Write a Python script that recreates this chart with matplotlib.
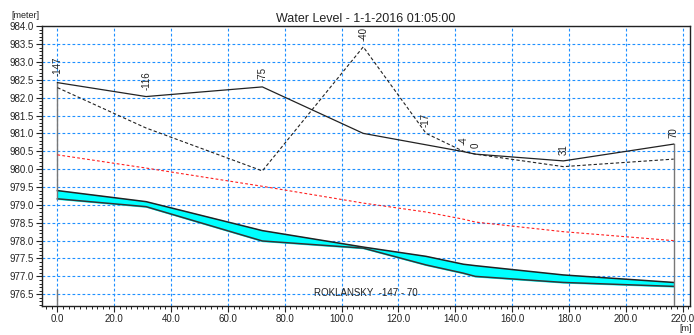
import matplotlib
matplotlib.use("Agg")
import matplotlib.pyplot as plt
from matplotlib.ticker import MultipleLocator, FormatStrFormatter

plt.rcParams['font.family'] = ['Liberation Sans', 'DejaVu Sans']

# Data (chainage in m, levels in meter)
stations = [0.0, 31.2, 72.1, 107.6, 129.7, 142.8, 147.0, 178.0, 216.8]
station_labels = ["-147", "-116", "-75", "-40", "-17", "-4", "0", "31", "70"]
left_bank = [982.42, 982.03, 982.30, 981.00, 980.68, 980.49, 980.42, 980.23, 980.70]
right_bank = [982.28, 981.15, 979.95, 983.42, 981.00, 980.50, 980.42, 980.07, 980.28]
critical_level = [980.40, 980.03, 979.52, 979.05, 978.80, 978.60, 978.52, 978.25, 978.00]
water_level = [979.40, 979.09, 978.28, 977.82, 977.56, 977.34, 977.30, 977.04, 976.83]
bed_level = [979.17, 978.95, 977.99, 977.79, 977.32, 977.09, 977.00, 976.83, 976.72]

fig = plt.figure(figsize=(6.94, 3.35), dpi=100)
ax = fig.add_axes([0.061, 0.0875, 0.933, 0.8345])

ax.set_xlim(-5.3, 222.5)
ax.set_ylim(976.18, 984.0)

# grid
ax.grid(True, which='major', color='#1E90FF', linestyle=(0, (2.5, 2)), linewidth=0.8)
ax.set_axisbelow(True)

# water band
ax.fill_between(stations, bed_level, water_level, color='#00FFFF', zorder=3)
ax.plot(stations, water_level, color='#222222', lw=1.1, zorder=4)
ax.plot(stations, bed_level, color='#333333', lw=1.1, zorder=4)

# lines
ax.plot(stations, left_bank, color='#222222', lw=0.9, zorder=5)
ax.plot(stations, right_bank, color='#222222', lw=0.8, linestyle=(0, (3, 2)), zorder=5)
ax.plot(stations, critical_level, color='#FF2020', lw=0.8, linestyle=(0, (2.5, 2)), zorder=5)

# vertical end markers
ax.plot([stations[0], stations[0]], [left_bank[0], bed_level[0]], color='#777777', lw=1.0, zorder=4)
ax.plot([stations[0], stations[0]], [976.18, 976.62], color='#777777', lw=1.0, zorder=4)
ax.plot([stations[-1], stations[-1]], [left_bank[-1], 976.18], color='#777777', lw=1.0, zorder=4)

# station labels
for x, lb, rb, lab in zip(stations, left_bank, right_bank, station_labels):
    ax.annotate(lab, (x, max(lb, rb)), xytext=(0, 4.5), textcoords='offset points',
                rotation=90, ha='center', va='bottom', fontsize=7, color='#222222', zorder=6)

# ticks
ax.xaxis.set_major_locator(MultipleLocator(20))
ax.xaxis.set_minor_locator(MultipleLocator(2))
ax.yaxis.set_major_locator(MultipleLocator(0.5))
ax.yaxis.set_minor_locator(MultipleLocator(0.1))
ax.xaxis.set_major_formatter(FormatStrFormatter('%.1f'))
ax.yaxis.set_major_formatter(FormatStrFormatter('%.1f'))
ax.tick_params(which='major', direction='out', length=4, width=0.8, labelsize=7, colors='#222222', pad=2)
ax.tick_params(which='minor', direction='out', length=2.5, width=0.7, colors='#222222')

for s in ax.spines.values():
    s.set_color('#222222')
    s.set_linewidth(1.0)

ax.set_title("Water Level - 1-1-2016 01:05:00", fontsize=9, color='#222222', pad=3)
fig.text(0.017, 0.955, "[meter]", fontsize=6.5, color='#222222', va='center', ha='left')
fig.text(0.988, 0.02, "[m]", fontsize=6.5, color='#222222', va='center', ha='center')
ax.text(0.5, 0.045, "ROKLANSKY  -147 - 70", transform=ax.transAxes, fontsize=7,
        color='#222222', ha='center', va='center', zorder=6)

fig.savefig("out.png", dpi=100)
